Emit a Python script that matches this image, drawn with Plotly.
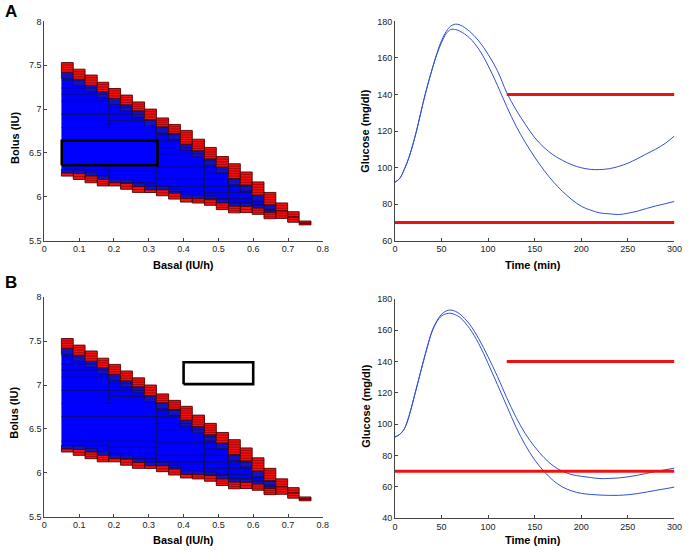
import plotly.graph_objects as go

# ---- paving (same for A and B) ----
# column edges, basal (IU/h)
col_edges = [0.049, 0.083, 0.117, 0.152, 0.185, 0.219, 0.253, 0.288, 0.322, 0.357,
             0.391, 0.425, 0.460, 0.494, 0.529, 0.563, 0.597, 0.631, 0.665, 0.699,
             0.732, 0.766]
# red boxes on the upper border (top / bottom), bolus (IU)
upper_top = [7.53, 7.455, 7.388, 7.306, 7.235, 7.16, 7.082, 7.0, 6.899, 6.825, 6.757,
             6.657, 6.563, 6.459, 6.377, 6.283, 6.17, 6.05, 5.93, 5.83, 5.724]
upper_bot = [7.42, 7.34, 7.272, 7.198, 7.123, 7.049, 6.981, 6.881, 6.799, 6.724, 6.6,
             6.526, 6.433, 6.34, 6.209, 6.135, 6.02, 5.91, 5.84, 5.77, 5.70]
# red boxes on the lower border (top / bottom)
lower_top = [6.27, 6.265, 6.236, 6.198, 6.16, 6.153, 6.116, 6.079, 6.079, 6.04, 5.98,
             5.978, 5.966, 5.929, 5.892, 5.89, 5.87, 5.82, 5.84, 5.77, 5.70]
lower_bot = [6.236, 6.198, 6.16, 6.124, 6.124, 6.086, 6.05, 6.049, 6.012, 5.974, 5.94,
             5.929, 5.903, 5.854, 5.817, 5.82, 5.8, 5.75, 5.754, 5.71, 5.68]
# groups of columns sharing the same inner cuts, and their cut levels
block_cols = [(0, 3), (4, 7), (8, 11), (12, 13), (14, 15), (16, 17)]
block_levels = [
    [7.33, 7.24, 7.17, 7.09, 6.94, 6.79, 6.64, 6.36, 6.31],
    [7.02, 6.94, 6.87, 6.79, 6.64, 6.36, 6.29, 6.22, 6.16],
    [6.79, 6.71, 6.64, 6.56, 6.49, 6.34, 6.20, 6.12, 6.06],
    [6.41, 6.34, 6.27, 6.20, 6.12, 6.05, 5.98],
    [6.27, 6.20, 6.12, 6.05, 5.98, 5.93],
    [6.02, 5.95, 5.90, 5.85],
]
# the wide boxes between 6.36 and 6.79 span blocks 0 and 1
merged_gap = (1, 6.36, 6.79)
dark_top = 0.07
dark_bot = 0.04

# highlighted parameter boxes (basal0, basal1, bolus0, bolus1)
box_A = [0.05, 0.325, 6.36, 6.64]
box_B = [0.40, 0.60, 7.01, 7.26]

# ---- glucose curves ----
t = [0, 5, 10, 15, 20, 25, 30, 35, 40, 45, 50, 55, 60, 65, 70, 80, 90, 100, 110, 120,
     130, 140, 150, 160, 170, 180, 190, 200, 210, 220, 230, 240, 250, 260, 270, 280, 290, 300]
gA_hi = [92, 94, 99, 105.5, 114, 124, 135, 145, 154, 162.5, 169.5, 174.5, 177.5, 178.5, 178,
         174.6, 169.3, 162, 153, 141, 131.6, 123.6, 116.4, 111, 106.9, 103.9, 101.5, 99.9,
         99, 98.9, 99.4, 100.6, 102.4, 104.8, 107.5, 110.1, 113.2, 117.3]
gA_lo = [92, 94, 99, 105.5, 114, 124, 135, 145, 154, 162, 168.5, 173.3, 175.6, 175.5, 174.6,
         171, 164.8, 155.8, 145, 133.4, 122.7, 113.7, 105.7, 98.5, 92.2, 86.9, 82.4, 78.8,
         76.7, 75.2, 74.7, 74.3, 75, 76.1, 77.6, 79, 80.2, 81.5]
gB_hi = [91.8, 93.5, 97, 105, 116, 127.5, 139, 150, 159.7, 166, 170.2, 172.3, 172.9, 172,
         170.2, 163.9, 154.5, 143, 130.5, 116.9, 104.4, 93.9, 85.6, 78.7, 73.4, 69.9, 67.8,
         66.8, 66, 65.3, 65.4, 65.7, 66.4, 67.4, 68.6, 69.9, 70.9, 72]
gB_lo = [91.8, 93.5, 97, 105, 116, 127.5, 139, 150, 159.5, 165.5, 169.1, 170.5, 170.8, 169.8,
         168.1, 161.2, 151.4, 138.8, 125.3, 111.7, 98.1, 86.6, 77.2, 69.9, 64, 59.9, 57.4,
         55.9, 55.2, 54.8, 54.6, 54.6, 55, 55.7, 56.7, 57.8, 58.8, 59.9]
hypo = 70
hyper = 140
hyper_start = 120
t_end = 300


def rects_to_xy(rects):
    xs, ys = [], []
    for x0, x1, y0, y1 in rects:
        xs += [x0, x1, x1, x0, x0, None]
        ys += [y0, y0, y1, y1, y0, None]
    return xs, ys


def segs_to_xy(segs):
    xs, ys = [], []
    for x0, y0, x1, y1 in segs:
        xs += [x0, x1, None]
        ys += [y0, y1, None]
    return xs, ys


def paving_traces(xa, ya, box):
    n = len(upper_top)
    blue, dark, red = [], [], []
    for c in range(n):
        x0, x1 = col_edges[c], col_edges[c + 1]
        lo, hi = lower_top[c], upper_bot[c]
        if hi > lo:
            blue.append((x0, x1, lo, hi))
            dark.append((x0, x1, max(lo, hi - dark_top), hi))
            dark.append((x0, x1, lo, min(hi, lo + dark_bot)))
        red.append((x0, x1, upper_bot[c], upper_top[c]))
        if lower_top[c] > lower_bot[c]:
            red.append((x0, x1, lower_bot[c], lower_top[c]))

    # cuts inside the blue area
    cuts = []
    for (c0, c1), levels in zip(block_cols, block_levels):
        for lv in levels:
            run = None
            for c in range(c0, c1 + 1):
                inside = lower_top[c] < lv < upper_bot[c]
                if inside and run is None:
                    run = c
                if (not inside or c == c1) and run is not None:
                    end = c if inside else c - 1
                    cuts.append((col_edges[run], lv, col_edges[end + 1], lv))
                    run = None
    for b in range(1, len(block_cols)):
        cl = block_cols[b - 1][1]
        cr = block_cols[b][0]
        xb = col_edges[cr]
        y0 = max(lower_top[cl], lower_top[cr])
        y1 = min(upper_bot[cl], upper_bot[cr])
        if y1 <= y0:
            continue
        if b == merged_gap[0]:
            cuts.append((xb, y0, xb, merged_gap[1]))
            cuts.append((xb, merged_gap[2], xb, y1))
        else:
            cuts.append((xb, y0, xb, y1))

    # thin strips in the red boxes
    strips = []
    for x0, x1, y0, y1 in red:
        k = max(1, round((y1 - y0) / 0.028))
        for i in range(1, k):
            yy = y0 + (y1 - y0) * i / k
            strips.append((x0, yy, x1, yy))

    traces = []
    bx, by = rects_to_xy(blue)
    traces.append(go.Scatter(x=bx, y=by, xaxis=xa, yaxis=ya, mode='lines', fill='toself',
                             fillcolor='#0000ff', line=dict(width=0), hoverinfo='skip'))
    dx, dy = rects_to_xy(dark)
    traces.append(go.Scatter(x=dx, y=dy, xaxis=xa, yaxis=ya, mode='lines', fill='toself',
                             fillcolor='#1212c4', line=dict(width=0.7, color='#101050'),
                             hoverinfo='skip'))
    cx, cy = segs_to_xy(cuts)
    traces.append(go.Scatter(x=cx, y=cy, xaxis=xa, yaxis=ya, mode='lines',
                             line=dict(width=0.7, color='#101040'), hoverinfo='skip'))
    rx, ry = rects_to_xy(red)
    traces.append(go.Scatter(x=rx, y=ry, xaxis=xa, yaxis=ya, mode='lines', fill='toself',
                             fillcolor='#f01010', line=dict(width=0.9, color='#500000'),
                             hoverinfo='skip'))
    sx, sy = segs_to_xy(strips)
    traces.append(go.Scatter(x=sx, y=sy, xaxis=xa, yaxis=ya, mode='lines',
                             line=dict(width=0.6, color='#7a0000'), hoverinfo='skip'))
    hx, hy = rects_to_xy([box])
    traces.append(go.Scatter(x=hx, y=hy, xaxis=xa, yaxis=ya, mode='lines',
                             line=dict(width=2.6, color='black'), hoverinfo='skip'))
    return traces


def glucose_traces(xa, ya, hi, lo):
    tr = []
    for g in (hi, lo):
        tr.append(go.Scatter(x=t, y=g, xaxis=xa, yaxis=ya, mode='lines', line_shape='spline',
                             line=dict(width=1, color='#3050d0'), hoverinfo='skip'))
    tr.append(go.Scatter(x=[hyper_start, t_end], y=[hyper, hyper], xaxis=xa, yaxis=ya,
                         mode='lines', line=dict(width=3, color='#ee1111'), hoverinfo='skip'))
    tr.append(go.Scatter(x=[0, t_end], y=[hypo, hypo], xaxis=xa, yaxis=ya,
                         mode='lines', line=dict(width=3, color='#ee1111'), hoverinfo='skip'))
    return tr


fig = go.Figure()
for tr in paving_traces('x', 'y', box_A):
    fig.add_trace(tr)
for tr in glucose_traces('x2', 'y2', gA_hi, gA_lo):
    fig.add_trace(tr)
for tr in paving_traces('x3', 'y3', box_B):
    fig.add_trace(tr)
for tr in glucose_traces('x4', 'y4', gB_hi, gB_lo):
    fig.add_trace(tr)

W, H = 691, 553
axis_common = dict(showline=True, linecolor='#444444', linewidth=1, ticks='inside',
                   ticklen=3, tickcolor='#444444', showgrid=False, zeroline=False,
                   tickfont=dict(size=9, color='#222222'), ticklabeloverflow='allow')

basal_ticks = [0, 0.1, 0.2, 0.3, 0.4, 0.5, 0.6, 0.7, 0.8]
bolus_ticks = [5.5, 6, 6.5, 7, 7.5, 8]
time_ticks = [0, 50, 100, 150, 200, 250, 300]


def px_x(a, b):
    return [a / W, b / W]


def px_y(top, bottom):
    return [1 - bottom / H, 1 - top / H]


fig.update_layout(
    width=W, height=H, margin=dict(l=0, r=0, t=0, b=0),
    paper_bgcolor='white', plot_bgcolor='white', showlegend=False,
    font=dict(family='Liberation Sans, Arial, sans-serif', size=9, color='#222222'),
    xaxis=dict(axis_common, domain=px_x(42, 325), range=[0, 0.8], anchor='y',
               tickvals=basal_ticks, ticktext=[f'{v:g}' for v in basal_ticks]),
    yaxis=dict(axis_common, domain=px_y(16.7, 240), range=[5.5, 8], anchor='x',
               tickvals=bolus_ticks, ticktext=[f'{v:g}' for v in bolus_ticks]),
    xaxis2=dict(axis_common, domain=px_x(398.3, 682.3), range=[0, 300], anchor='y2',
                tickvals=time_ticks),
    yaxis2=dict(axis_common, domain=px_y(16.7, 240), range=[60, 180], anchor='x2',
                dtick=20),
    xaxis3=dict(axis_common, domain=px_x(42, 325), range=[0, 0.8], anchor='y3',
                tickvals=basal_ticks, ticktext=[f'{v:g}' for v in basal_ticks]),
    yaxis3=dict(axis_common, domain=px_y(297.7, 521), range=[5.5, 8], anchor='x3',
                tickvals=bolus_ticks, ticktext=[f'{v:g}' for v in bolus_ticks]),
    xaxis4=dict(axis_common, domain=px_x(398.3, 682.3), range=[0, 300], anchor='y4',
                tickvals=time_ticks),
    yaxis4=dict(axis_common, domain=px_y(299.3, 522.7), range=[40, 180], anchor='x4',
                dtick=20),
)


def label(text, x, y, angle=0, size=11):
    fig.add_annotation(text=f'<b>{text}</b>', x=x / W, y=1 - y / H, xref='paper',
                       yref='paper', showarrow=False, textangle=angle,
                       font=dict(size=size, color='black'), xanchor='center', yanchor='middle')


label('A', 8, 7, size=17)
label('B', 8, 283, size=17)
label('Basal (IU/h)', 183.5, 265)
label('Bolus (IU)', 11.5, 135, angle=-90)
label('Time (min)', 539, 265)
label('Glucose (mg/dl)', 368.5, 128.5, angle=-90)
label('Basal (IU/h)', 183.5, 544.5)
label('Bolus (IU)', 11.5, 415, angle=-90)
label('Time (min)', 539, 544.5)
label('Glucose (mg/dl)', 368.5, 408.5, angle=-90)

page_fix = ("document.body.style.margin='0';"
            "document.body.style.overflow='hidden';"
            "document.documentElement.style.overflow='hidden';")
fig.write_html("out.html", config={'displayModeBar': False}, post_script=page_fix)
